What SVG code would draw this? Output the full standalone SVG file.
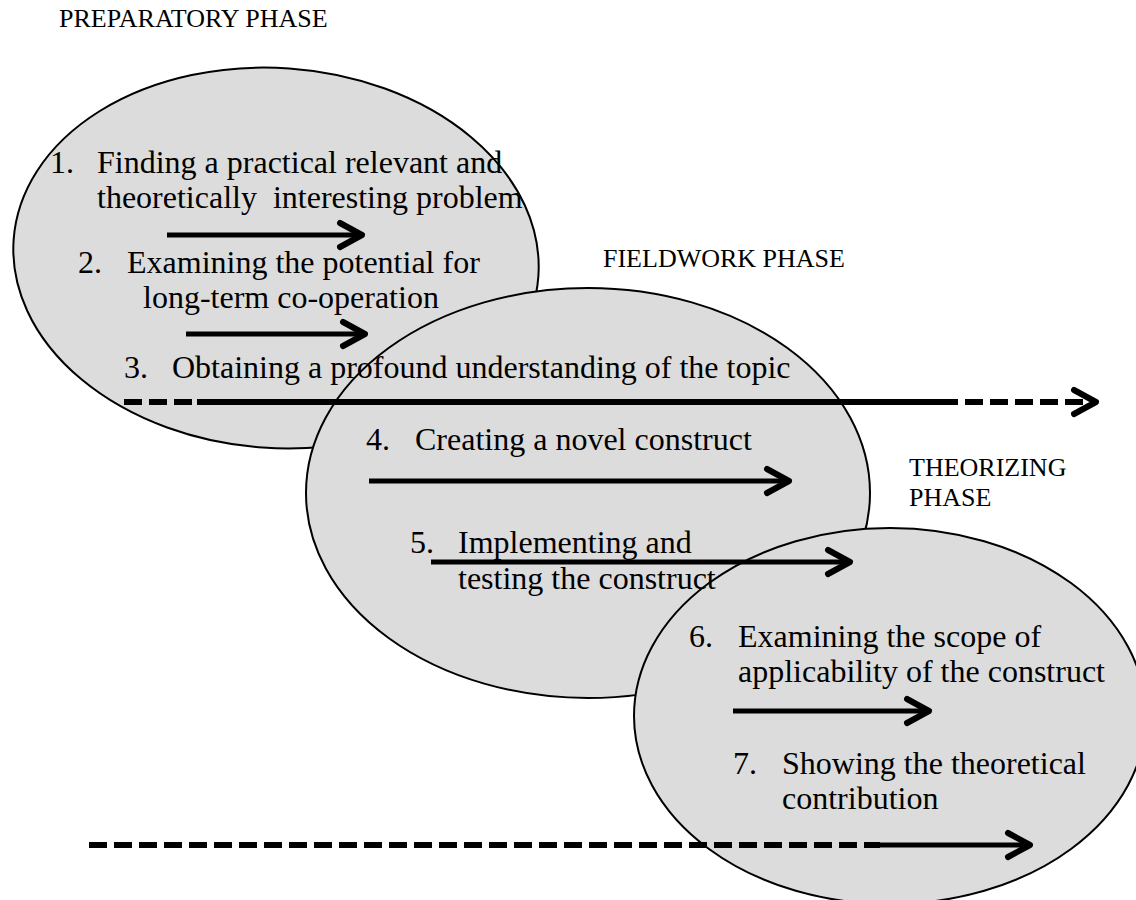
<svg xmlns="http://www.w3.org/2000/svg" width="1136" height="900" viewBox="0 0 1136 900">
  <style>
    .phase { fill: #dcdcdc; stroke: #000; stroke-width: 2; }
    .lbl { font-family: "Liberation Serif", "Times New Roman", serif; fill: #000; }
    .title { font-size: 26px; }
    .item { font-size: 32px; }
    .solid { stroke: #000; stroke-width: 5; fill: none; }
    .thick { stroke: #000; stroke-width: 6; fill: none; }
    .dash { stroke: #000; stroke-width: 6; fill: none; stroke-dasharray: 18 7; }
  </style>
  <defs>
    <marker id="chev" markerUnits="userSpaceOnUse" viewBox="-30 -20 36 40" refX="0" refY="0" markerWidth="36" markerHeight="40" orient="auto" overflow="visible">
      <path d="M -22 -12 L 0 0 L -22 12" fill="none" stroke="#000" stroke-width="6" stroke-linecap="round" stroke-linejoin="round"/>
    </marker>
  </defs>

  <rect width="1136" height="900" fill="#fff"/>

  <!-- phase ellipses, back to front -->
  <g id="preparatory-phase">
    <ellipse class="phase" cx="276" cy="258" rx="263" ry="190" transform="rotate(4 276 258)"/>
  </g>
  <g id="fieldwork-phase">
    <ellipse class="phase" cx="588" cy="493" rx="282" ry="205"/>
  </g>
  <g id="theorizing-phase">
    <ellipse class="phase" cx="890" cy="716" rx="256" ry="188"/>
  </g>

  <!-- phase titles -->
  <g id="titles" class="lbl title">
    <text x="59" y="27">PREPARATORY PHASE</text>
    <text x="603" y="267">FIELDWORK PHASE</text>
    <text x="909" y="476">THEORIZING</text>
    <text x="909" y="506">PHASE</text>
  </g>

  <!-- steps -->
  <g id="step1" class="lbl item">
    <text x="50" y="173">1.</text>
    <text x="97" y="173">Finding a practical relevant and</text>
    <text x="97" y="208" xml:space="preserve">theoretically  interesting problem</text>
  </g>
  <g id="step2" class="lbl item">
    <text x="78" y="273">2.</text>
    <text x="127" y="273">Examining the potential for</text>
    <text x="143" y="308">long-term co-operation</text>
  </g>
  <g id="step3" class="lbl item">
    <text x="124" y="378">3.</text>
    <text x="172" y="378">Obtaining a profound understanding of the topic</text>
  </g>
  <g id="step4" class="lbl item">
    <text x="366" y="450">4.</text>
    <text x="415" y="450">Creating a novel construct</text>
  </g>
  <g id="step5" class="lbl item">
    <text x="410" y="553">5.</text>
    <text x="458" y="553">Implementing and</text>
    <text x="458" y="589">testing the construct</text>
  </g>
  <g id="step6" class="lbl item">
    <text x="689" y="647">6.</text>
    <text x="738" y="647">Examining the scope of</text>
    <text x="738" y="682">applicability of the construct</text>
  </g>
  <g id="step7" class="lbl item">
    <text x="733" y="774">7.</text>
    <text x="782" y="774">Showing the theoretical</text>
    <text x="782" y="809">contribution</text>
  </g>

  <!-- connectors -->
  <g id="connectors">
    <line class="solid" x1="167" y1="235" x2="362" y2="235" marker-end="url(#chev)"/>
    <line class="solid" x1="186" y1="334" x2="365" y2="334" marker-end="url(#chev)"/>
    <line class="dash" x1="124" y1="402" x2="200" y2="402"/>
    <line class="thick" x1="197" y1="402" x2="940" y2="402"/>
    <line class="dash" x1="940" y1="402" x2="1096" y2="402" marker-end="url(#chev)"/>
    <line class="solid" x1="369" y1="481" x2="789" y2="481" marker-end="url(#chev)"/>
    <line class="solid" x1="431" y1="562" x2="850" y2="562" marker-end="url(#chev)"/>
    <line class="solid" x1="733" y1="711" x2="929" y2="711" marker-end="url(#chev)"/>
    <line class="dash" x1="89" y1="845" x2="880" y2="845"/>
    <line class="solid" x1="864" y1="845" x2="1030" y2="845" marker-end="url(#chev)"/>
  </g>
</svg>
